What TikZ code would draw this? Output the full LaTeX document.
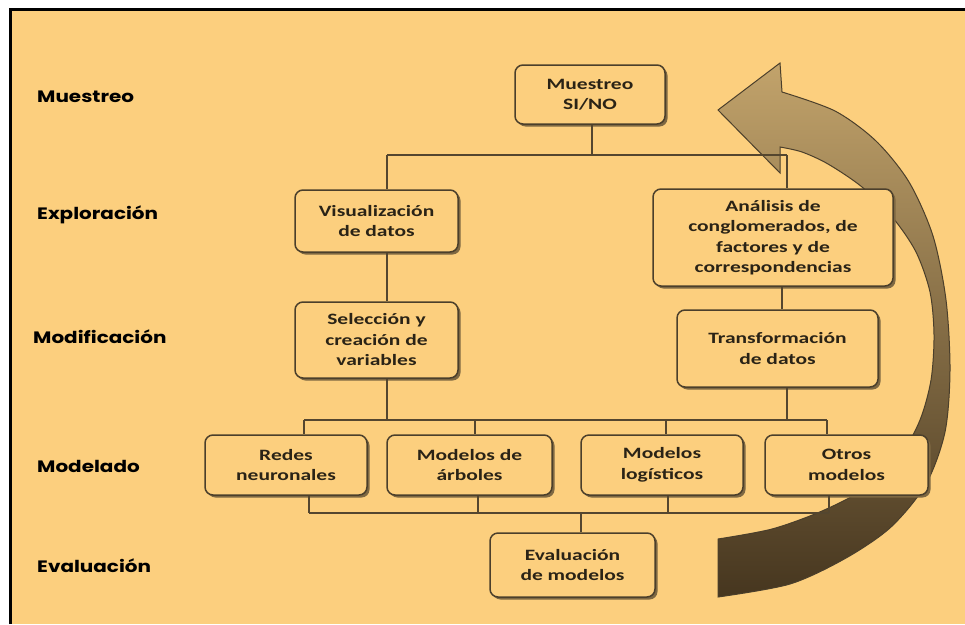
\documentclass[tikz,border=0pt]{standalone}
\usepackage{fontspec}
\newfontfamily\boxfont{Carlito}[FakeStretch=1.36]
\newfontfamily\stagefont{Poppins}[FakeStretch=1.21]
\definecolor{paper}{HTML}{FCCF7E}
\definecolor{ink}{HTML}{2A2316}
\definecolor{wire}{HTML}{54462F}
\definecolor{edge}{HTML}{4B3F2B}
\definecolor{shadowc}{HTML}{7E6842}
\definecolor{arrowtop}{HTML}{C2A36B}
\definecolor{arrowmid}{HTML}{7E6338}
\definecolor{arrowbot}{HTML}{46361F}
\tikzset{
  stage/.style={anchor=base west, inner sep=0pt, text=black,
    font=\stagefont\bfseries\fontsize{16.5}{19}\selectfont},
  stepbox/.style={rounded corners=8pt, draw=edge, line width=1.5pt, fill=paper,
    align=center, inner sep=2pt, text=ink,
    font=\boxfont\bfseries\fontsize{15.8}{20.5}\selectfont},
  link/.style={draw=wire, line width=2pt},
}
\newcommand{\shadowbox}[5]{%
  % shadow of a box: centre (#1,#2), width #3, height #4, name #5
  \fill[shadowc, rounded corners=8pt] ({#1-#3/2+2.5},{#2-#4/2+2.5}) rectangle ({#1+#3/2+2.5},{#2+#4/2+2.5});
  \node[stepbox, minimum width=#3pt, minimum height=#4pt] (#5) at (#1,#2)}
\begin{document}
\begin{tikzpicture}[x=1pt, y=-1pt]
\useasboundingbox (0,0) rectangle (965,624);
\fill[white] (0,0) rectangle (965,624);
\fill[paper] (10.5,9) rectangle (965,624);
\draw[black, line width=3pt] (10.5,624) -- (10.5,9) -- (965,9);

% stage labels
\node[stage] (lmue) at (37,102) {Muestreo};
\node[stage] (lexp) at (37,219) {Exploración};
\node[stage] (lmod) at (33,343) {Modificación};
\node[stage] (lmdl) at (37,472) {Modelado};
\node[stage] (leva) at (37,572) {Evaluación};

% curved return arrow
\shade[top color=arrowtop, middle color=arrowmid, bottom color=arrowbot,
       draw=edge, line width=1pt]
  (718,539) -- plot[smooth] coordinates {(718,539) (772,529) (822,511) (866,488) (900,456) (920,420) (931,380) (934,335) (930,292) (916,252) (893,218) (862,187) (828,164) (802,152) (780,147)}
  -- (780,173) -- (718,110) -- (780,63) -- (782,92)
  -- plot[smooth] coordinates {(782,92) (835,111) (876,141) (909,182) (933,236) (946,300) (950,370) (945,432) (926,484) (891,527) (846,558) (790,584) (718,597)}
  -- cycle;

% connector junctions
\coordinate (b1) at (592,155);
\coordinate (b1l) at (387,155);
\coordinate (b1r) at (787,155);
\coordinate (b2l) at (304,420);
\coordinate (b2r) at (827,420);
\coordinate (b2a) at (387,420);
\coordinate (b2b) at (787,420);
\coordinate (b2c) at (475,420);
\coordinate (b2d) at (666,420);
\coordinate (b3l) at (309,513);
\coordinate (b3r) at (829,513);
\coordinate (b3b) at (478,513);
\coordinate (b3c) at (668,513);
\coordinate (b3e) at (581,513);
\coordinate (cta) at (782,300);

% boxes
\shadowbox{590}{94.5}{150}{59}{mue}{Muestreo\\SI/NO};
\shadowbox{376.5}{221}{163}{62}{vis}{Visualización\\de datos};
\shadowbox{773}{237.5}{240}{97}{ana}{Análisis de\\conglomerados, de\\factores y de\\correspondencias};
\shadowbox{376.5}{340}{163}{76}{sel}{Selección y\\creación de\\variables};
\shadowbox{777.5}{348.5}{201}{77}{tra}{Transformación\\de datos};
\shadowbox{286}{465}{162}{60}{red}{Redes\\neuronales};
\shadowbox{469.5}{465}{165}{60}{arb}{Modelos de\\árboles};
\shadowbox{662}{465}{162}{60}{log}{Modelos\\logísticos};
\shadowbox{846.5}{465}{163}{60}{otr}{Otros\\modelos};
\shadowbox{572.5}{565}{165}{64}{eva}{Evaluación\\de modelos};

% connectors
\draw[link] (mue.south -| b1) -- (b1);
\draw[link] (b1l) -- (b1r);
\draw[link] (b1l) -- (vis.north -| b1l);
\draw[link] (b1r) -- (ana.north -| b1r);
\draw[link] (vis.south -| b1l) -- (sel.north -| b1l);
\draw[link] (ana.south -| cta) -- (tra.north -| cta);
\draw[link] (sel.south -| b2a) -- (b2a);
\draw[link] (tra.south -| b2b) -- (b2b);
\draw[link] (b2l) -- (b2r);
\draw[link] (b2l) -- (red.north -| b2l);
\draw[link] (b2c) -- (arb.north -| b2c);
\draw[link] (b2d) -- (log.north -| b2d);
\draw[link] (b2r) -- (otr.north -| b2r);
\draw[link] (red.south -| b3l) -- (b3l);
\draw[link] (arb.south -| b3b) -- (b3b);
\draw[link] (log.south -| b3c) -- (b3c);
\draw[link] (otr.south -| b3r) -- (b3r);
\draw[link] (b3l) -- (b3r);
\draw[link] (b3e) -- (eva.north -| b3e);
\end{tikzpicture}
\end{document}
